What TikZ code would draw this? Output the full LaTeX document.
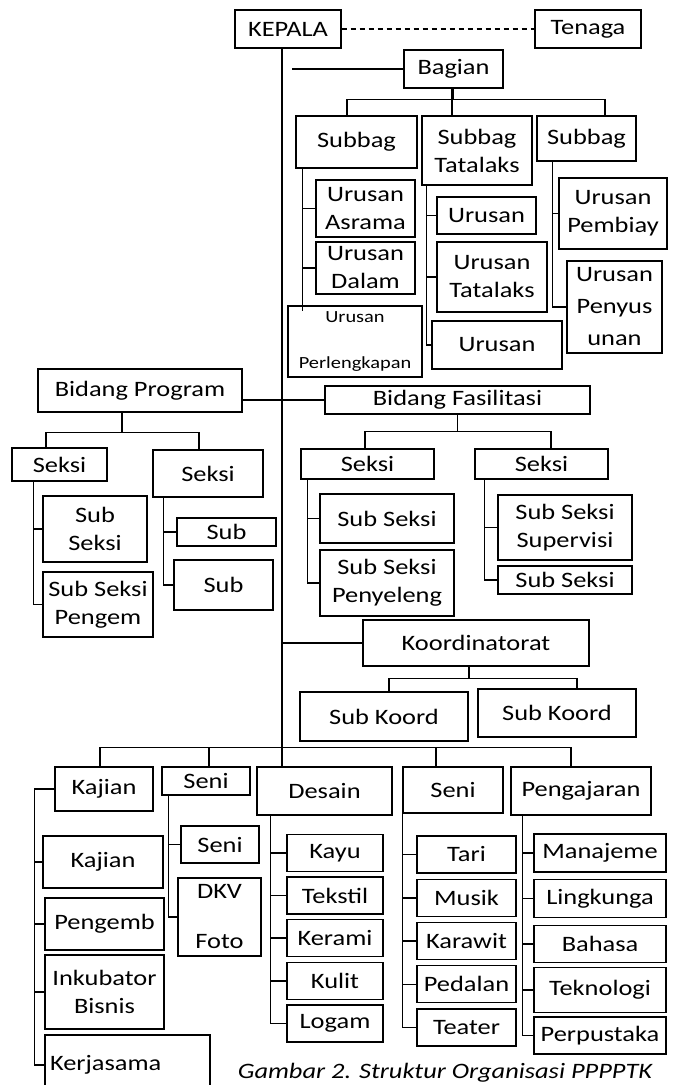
\documentclass[tikz,border=0pt]{standalone}
\usepackage{fontspec}
\setmainfont{Carlito}[FakeStretch=1.2]

\begin{document}
\begin{tikzpicture}[x=1pt, y=-1pt, line width=1.5pt,
    box/.style={draw, line width=1.3pt, inner sep=1pt, align=center, font=\fontsize{22}{28}\selectfont},
    wh/.style 2 args={minimum width=#1pt, minimum height=#2pt}]
          \path[fill=white, use as bounding box] (0,0) rectangle (674,1085);

          \node[box, wh={106}{38}] (kepala) at (288,29) {KEPALA};
          \node[box, wh={106}{38}] (tenaga) at (588,29) {Tenaga};
          \coordinate (trunk) at ([xshift=-6pt]kepala.south);

          \node[box, wh={99}{38}] (bagian) at (453.5,69) {Bagian};
          \node[box, wh={121}{52}] (subbagA) at (356.5,142) {Subbag};
          \node[box, wh={110}{69}] (subbagB) at (477,150.5) {Subbag\\Tatalaks};
          \node[box, wh={99}{45}] (subbagC) at (586.5,138.5) {Subbag};

          \node[box, wh={99}{57}] (urAsrama) at (365.5,208.5) {Urusan\\Asrama};
          \node[box, wh={99}{52}] (urDalam) at (365.5,268) {Urusan\\Dalam};
          \node[box, wh={134}{71}, font=\fontsize{17}{20}\selectfont] (urLengkap) at (355,341.5) {Urusan\\[26pt]Perlengkapan};
          \node[box, wh={99}{37}] (urTataA) at (486.5,215.5) {Urusan};
          \node[box, wh={110}{70}] (urTataB) at (492,277) {Urusan\\Tatalaks};
          \node[box, wh={130}{48}] (urTataC) at (497,345) {Urusan};
          \node[box, wh={108}{71}] (urBiaya) at (613,213.5) {Urusan\\Pembiay};
          \node[box, wh={95}{92}] (urSusun) at (614.5,307) {Urusan\\[4pt]Penyus\\[4pt]unan};

          \draw[dash pattern=on 5pt off 4pt, line width=1.3pt] (kepala.east) -- (tenaga.west);
          \draw ([xshift=10pt]trunk |- bagian.west) -- (bagian.west);
          \draw (bagian.south) -- ++(0,11) -| ([xshift=-9.5pt]subbagA.north);
          \draw (bagian.south) -- ++(0,11) -| ([xshift=18.5pt]subbagC.north);
          \draw ([xshift=-1.5pt]bagian.south) -- ([xshift=-1.5pt]bagian.south |- subbagB.north);
          \foreach \c in {urAsrama,urDalam} \draw ([xshift=7pt]subbagA.south west) |- (\c.west);
          \draw ([xshift=7pt]subbagA.south west) -- ([xshift=7pt,yshift=-6pt]subbagA.south west |- urLengkap.north);
          \foreach \c in {urTataA,urTataB,urTataC} \draw ([xshift=5pt]subbagB.south west) |- (\c.west);
          \foreach \c in {urBiaya,urSusun} \draw ([xshift=16pt]subbagC.south west) |- (\c.west);

          \node[box, wh={204}{43}] (bidProg) at (140,390.5) {Bidang Program};
          \node[box, wh={265}{28}] (bidFas) at (457.5,400) {Bidang Fasilitasi};
          \draw (bidProg.east |- bidFas.west) -- (bidFas.west);

          \node[box, wh={95}{33}] (seksiA) at (59.5,464.5) {Seksi};
          \node[box, wh={110}{47}] (seksiB) at (208,473.5) {Seksi};
          \node[box, wh={104}{66}] (subA1) at (95,529) {Sub\\Seksi};
          \node[box, wh={110}{65}] (subA2) at (98,604.5) {Sub Seksi\\Pengem};
          \node[box, wh={99}{28}] (subB1) at (226.5,532) {Sub};
          \node[box, wh={99}{50}] (subB2) at (223.5,585) {Sub};
          \draw ([xshift=-18pt]bidProg.south) -- ++(0,20) -| ([xshift=-13.5pt]seksiA.north);
          \draw ([xshift=-18pt]bidProg.south) -- ++(0,20) -| ([xshift=-9pt]seksiB.north);
          \foreach \c in {subA1,subA2} \draw ([xshift=22pt]seksiA.south west) |- (\c.west);
          \foreach \c in {subB1,subB2} \draw ([xshift=11pt]seksiB.south west) |- (\c.west);

          \node[box, wh={133}{30}] (seksiC) at (367.5,464) {Seksi};
          \node[box, wh={133}{30}] (seksiD) at (541.5,464) {Seksi};
          \node[box, wh={134}{49}] (subC1) at (387,518.5) {Sub Seksi};
          \node[box, wh={134}{66}] (subC2) at (387,583) {Sub Seksi\\Penyeleng};
          \node[box, wh={134}{65}] (subD1) at (565,527.5) {Sub Seksi\\Supervisi};
          \node[box, wh={134}{28}] (subD2) at (565,580) {Sub Seksi};
          \draw (bidFas.south) -- ++(0,17) -| ([xshift=-2.5pt]seksiC.north);
          \draw (bidFas.south) -- ++(0,17) -| ([xshift=9.5pt]seksiD.north);
          \foreach \c in {subC1,subC2} \draw ([xshift=7pt]seksiC.south west) |- (\c.west);
          \foreach \c in {subD1,subD2} \draw ([xshift=10pt]seksiD.south west) |- (\c.west);

          \node[box, wh={226}{46}] (koord) at (476,643) {Koordinatorat};
          \node[box, wh={168}{49}] (koordA) at (384,716.5) {Sub Koord};
          \node[box, wh={158}{48}] (koordB) at (557,713) {Sub Koord};
          \draw (trunk |- koord.west) -- (koord.west);
          \draw ([xshift=-7pt]koord.south) -- ++(0,12) -| ([xshift=5pt]koordA.north);
          \draw ([xshift=-7pt]koord.south) -- ++(0,12) -| ([xshift=20pt]koordB.north);

          \node[box, wh={98}{44}] (kajian) at (104,789) {Kajian};
          \node[box, wh={88}{28}] (seniA) at (206,781) {Seni};
          \node[box, wh={135}{48}] (desain) at (324.5,791) {Desain};
          \node[box, wh={100}{46}] (seniB) at (453,790) {Seni};
          \node[box, wh={140}{48}] (ajar) at (581,791) {Pengajaran};
          \draw (trunk) -- (trunk |- desain.north);
          \foreach \c/\dx in {kajian/-4pt,seniA/3pt,seniB/-17pt,ajar/-10pt}
            \draw ([xshift=\dx]\c.north) -- ++(0,-19) -| (trunk);

          \node[box, wh={120}{52}] (kajSos) at (103,862) {Kajian};
          \node[box, wh={119}{52}] (pengemb) at (104.5,924) {Pengemb};
          \node[box, wh={119}{74}] (inkub) at (104.5,992) {Inkubator\\Bisnis};
          \node[box, wh={165}{60}, text width=155pt, align=left, inner xsep=4pt] (kerja) at (127.5,1065) {Kerjasama};
          \foreach \c in {kajSos,pengemb,inkub,kerja} \draw (kajian.west) -- ++(-20,0) |- (\c.west);

          \node[box, wh={78}{37}] (seniSub) at (220,844.5) {Seni};
          \node[box, wh={83}{78}] (dkv) at (219.5,917) {DKV\\[22pt]Foto};
          \foreach \c in {seniSub,dkv} \draw ([xshift=7pt]seniA.south west) |- (\c.west);

          \foreach \t [count=\i] in {Kayu,Tekstil,Kerami,Kulit,Logam}
            \node[box, wh={96}{37}] (ds\i) at (335,{810.4+42.6*\i}) {\t};
          \foreach \i in {1,...,5} \draw ([xshift=14pt]desain.south west) |- (ds\i.west);

          \foreach \t [count=\i] in {Tari,Musik,Karawit,Pedalan,Teater}
            \node[box, wh={99}{37}] (sn\i) at (466.5,{811.25+43.25*\i}) {\t};
          \foreach \i in {1,...,5} \draw (seniB.south west) |- (sn\i.west);

          \foreach \t/\h [count=\i] in {Manajeme/38,Lingkunga/38,Bahasa/37,Teknologi/45,Perpustaka/37}
            \node[box, wh={132}{\h}] (aj\i) at (600,{807.4+45.6*\i}) {\t};
          \foreach \i in {1,...,5} \draw ([xshift=12pt]ajar.south west) |- (aj\i.west);

          \node[font=\fontsize{22}{28}\selectfont\itshape, anchor=base] (caption) at (445,1078) {Gambar 2. Struktur Organisasi PPPPTK};
        \end{tikzpicture}
\end{document}
